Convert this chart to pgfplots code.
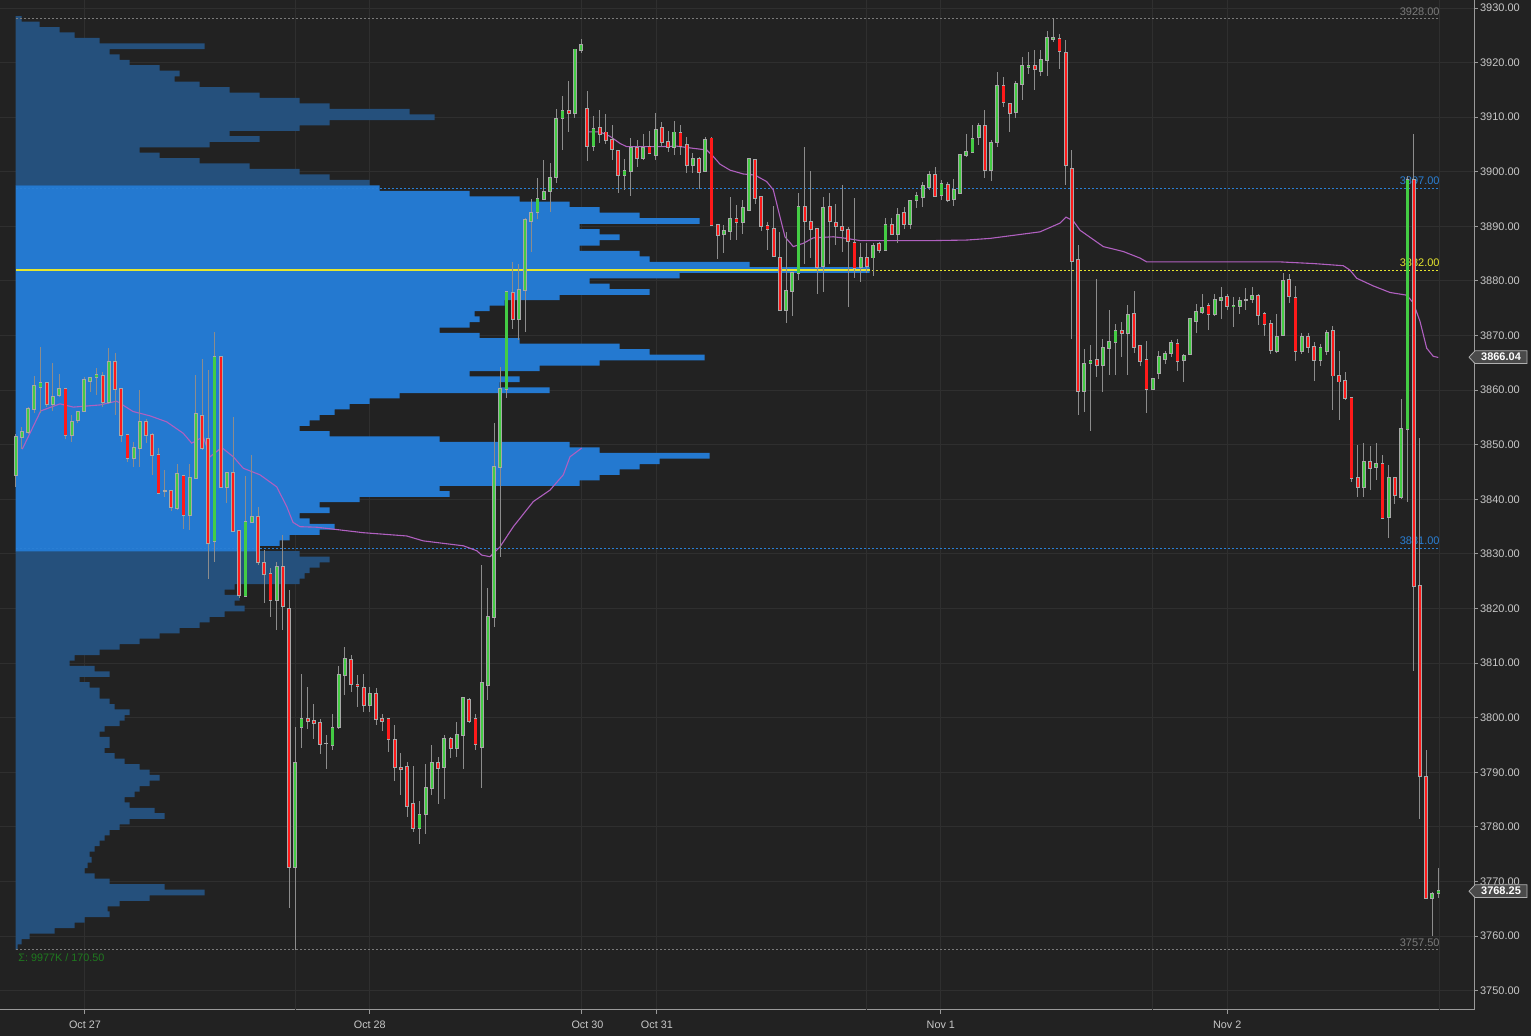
\documentclass[border=0pt]{standalone}
\usepackage{fontspec}
\setmainfont{Liberation Sans}
\usepackage{pgfplots}
\usepackage{pgfplotstable}
\pgfplotsset{compat=1.18}
\definecolor{bgc}{HTML}{222222}
\definecolor{gridc}{HTML}{2F2F2F}
\definecolor{axc}{HTML}{9A9A9A}
\definecolor{txtc}{HTML}{C8C8C8}
\definecolor{vac}{HTML}{2479D0}
\definecolor{outc}{HTML}{25507C}
\definecolor{upc}{HTML}{44CC44}
\definecolor{dnc}{HTML}{FF1A1A}
\definecolor{wickc}{HTML}{8C8C8C}
\definecolor{bordc}{HTML}{A8A8A8}
\definecolor{vwapc}{HTML}{B060C0}
\definecolor{lvlblue}{HTML}{2A7FD4}
\definecolor{lvlyel}{HTML}{E6E62E}
\definecolor{lvlgray}{HTML}{7A7A7A}
\definecolor{sumc}{HTML}{1F7A1F}
\definecolor{boxc}{HTML}{4A4A4A}
\definecolor{boxb}{HTML}{B0B0B0}
\newcommand{\lbl}{\fontsize{5.5}{6.5}\selectfont}
\pgfplotsset{nomark/.style={only marks, mark=*, mark size=0pt, mark options={draw opacity=0, fill opacity=0}, forget plot}}

\pgfplotstableread{
i o h l c
0 3844.4 3852.0 3842.2 3851.4
1 3851.4 3853.3 3849.2 3852.4
2 3852.4 3857.0 3852.0 3856.6
3 3856.6 3862.6 3855.9 3860.8
4 3860.5 3868.0 3855.8 3861.4
5 3861.4 3861.5 3857.0 3857.4
6 3857.4 3865.0 3856.2 3858.8
7 3859.1 3863.0 3858.8 3860.3
8 3860.2 3860.3 3851.0 3851.8
9 3851.8 3855.5 3850.6 3854.2
10 3854.5 3856.2 3854.0 3856.1
11 3856.1 3862.5 3856.0 3861.9
12 3861.7 3862.5 3859.6 3862.3
13 3862.4 3864.0 3859.1 3862.7
14 3862.7 3863.3 3857.0 3857.8
15 3857.8 3867.8 3857.5 3865.1
16 3865.1 3866.8 3855.5 3860.3
17 3860.3 3860.4 3850.6 3851.8
18 3851.8 3852.0 3846.8 3847.5
19 3847.5 3850.6 3846.0 3849.4
20 3849.4 3860.0 3846.0 3854.2
21 3854.2 3854.8 3850.3 3851.8
22 3851.8 3852.2 3844.5 3848.1
23 3848.1 3849.5 3841.0 3841.1
24 3841.5 3845.3 3840.4 3841.5
25 3841.5 3841.6 3837.8 3838.7
26 3838.4 3846.4 3838.0 3844.6
27 3844.3 3844.4 3834.6 3837.1
28 3837.1 3846.4 3834.4 3843.9
29 3844.0 3862.7 3844.0 3855.6
30 3855.3 3865.7 3849.0 3849.4
31 3851.1 3863.7 3825.5 3832.1
32 3832.4 3870.7 3828.6 3866.1
33 3866.1 3866.2 3842.0 3842.3
34 3842.3 3845.0 3839.3 3844.9
35 3844.9 3855.0 3834.0 3834.2
36 3834.2 3834.3 3821.9 3822.4
37 3822.4 3844.3 3822.3 3835.8
38 3835.8 3848.1 3835.6 3836.8
39 3836.8 3838.7 3828.0 3828.5
40 3828.3 3830.7 3821.0 3826.3
41 3826.3 3827.5 3818.5 3821.5
42 3821.5 3828.6 3816.1 3827.6
43 3827.7 3833.5 3816.0 3820.4
44 3820.0 3823.4 3765.1 3772.6
45 3772.6 3798.3 3757.5 3791.7
46 3798.3 3808.0 3794.4 3799.8
47 3799.8 3805.7 3797.9 3799.4
48 3799.4 3802.5 3796.1 3799.0
49 3799.1 3799.7 3793.3 3795.2
50 3795.3 3796.8 3790.7 3795.3
51 3795.0 3800.7 3794.2 3798.1
52 3798.3 3809.4 3798.0 3807.8
53 3807.8 3813.0 3804.1 3810.7
54 3810.6 3811.5 3804.7 3806.1
55 3806.1 3807.8 3802.0 3805.8
56 3805.5 3808.0 3801.1 3802.3
57 3802.3 3805.7 3801.1 3804.4
58 3804.4 3805.4 3798.7 3799.8
59 3799.8 3800.7 3797.6 3799.5
60 3799.8 3799.9 3793.8 3796.1
61 3795.9 3798.7 3788.5 3790.9
62 3790.9 3793.5 3785.9 3790.6
63 3790.9 3791.9 3781.8 3783.9
64 3784.2 3791.2 3779.0 3779.9
65 3779.9 3784.8 3776.9 3782.2
66 3782.4 3791.5 3778.8 3787.1
67 3787.1 3795.0 3785.9 3791.8
68 3791.8 3792.9 3784.2 3790.9
69 3790.9 3796.8 3785.1 3796.2
70 3796.2 3796.5 3792.6 3794.4
71 3794.4 3799.3 3792.8 3796.8
72 3796.8 3803.9 3790.6 3803.6
73 3803.3 3803.6 3799.0 3799.5
74 3799.8 3800.7 3794.1 3795.2
75 3794.6 3828.0 3787.1 3806.4
76 3806.1 3823.7 3803.3 3818.5
77 3818.5 3854.0 3816.6 3846.0
78 3846.0 3864.3 3829.5 3860.2
79 3860.2 3878.2 3858.5 3877.9
80 3877.9 3883.4 3871.2 3873.0
81 3873.0 3883.2 3869.2 3878.4
82 3878.4 3891.5 3870.7 3891.2
83 3891.0 3895.1 3885.4 3892.5
84 3892.7 3898.8 3891.3 3895.1
85 3895.1 3902.2 3894.8 3896.4
86 3896.4 3901.6 3892.7 3898.8
87 3899.1 3911.6 3898.0 3909.7
88 3909.8 3913.9 3904.0 3911.1
89 3911.1 3916.6 3907.3 3910.7
90 3910.7 3922.5 3909.8 3922.4
91 3922.4 3924.3 3921.7 3923.2
92 3911.5 3914.8 3901.9 3904.8
93 3904.8 3910.3 3903.9 3907.8
94 3908.0 3911.4 3905.2 3906.9
95 3907.2 3910.6 3905.1 3905.8
96 3905.8 3908.5 3902.2 3904.2
97 3903.9 3904.0 3896.2 3899.5
98 3899.5 3902.3 3896.7 3900.1
99 3900.1 3906.1 3895.6 3904.3
100 3904.4 3905.8 3900.8 3902.6
101 3902.6 3907.0 3902.2 3904.3
102 3904.5 3907.5 3903.3 3903.4
103 3903.1 3910.8 3902.2 3907.7
104 3908.0 3909.2 3904.5 3905.5
105 3905.4 3907.5 3903.7 3904.6
106 3904.6 3909.4 3903.0 3907.2
107 3907.2 3908.6 3903.1 3904.7
108 3904.9 3906.4 3899.7 3901.2
109 3901.2 3903.4 3899.7 3902.4
110 3902.3 3902.8 3896.9 3900.0
111 3900.1 3906.3 3900.0 3905.8
112 3906.1 3906.4 3890.0 3890.3
113 3890.3 3890.4 3884.1 3888.4
114 3888.6 3890.3 3885.1 3889.2
115 3889.2 3895.4 3887.5 3891.4
116 3891.4 3894.0 3887.5 3890.9
117 3890.9 3894.8 3888.7 3893.4
118 3893.1 3902.4 3893.0 3902.3
119 3902.2 3902.3 3894.2 3895.2
120 3895.3 3895.4 3889.2 3890.1
121 3890.1 3890.9 3885.6 3889.6
122 3889.6 3893.7 3884.5 3884.6
123 3884.3 3889.0 3874.7 3874.7
124 3874.7 3889.0 3872.4 3878.2
125 3878.2 3881.5 3873.6 3881.4
126 3881.4 3896.1 3880.2 3893.5
127 3893.5 3904.6 3883.2 3891.0
128 3890.9 3900.1 3884.2 3889.6
129 3889.5 3889.6 3877.6 3882.6
130 3882.8 3895.3 3877.9 3893.4
131 3893.5 3896.1 3883.2 3890.9
132 3890.6 3894.1 3886.6 3890.1
133 3889.9 3897.5 3885.4 3889.3
134 3889.3 3889.9 3875.3 3887.4
135 3887.0 3895.3 3880.6 3882.4
136 3882.6 3887.0 3879.9 3884.3
137 3884.3 3887.0 3881.4 3882.8
138 3884.3 3887.0 3881.0 3886.4
139 3886.7 3887.2 3885.1 3885.7
140 3885.6 3891.5 3885.5 3890.3
141 3890.3 3891.5 3888.4 3888.6
142 3888.6 3893.4 3887.0 3892.1
143 3892.4 3893.5 3889.6 3890.4
144 3890.4 3894.8 3889.6 3894.6
145 3894.8 3896.4 3893.3 3895.6
146 3895.3 3898.2 3893.6 3897.4
147 3897.3 3900.1 3896.7 3899.4
148 3899.5 3900.8 3895.4 3895.6
149 3895.8 3898.5 3894.8 3897.8
150 3897.6 3898.2 3894.4 3894.8
151 3895.1 3898.6 3893.7 3896.7
152 3896.2 3903.0 3896.0 3903.0
153 3903.0 3907.0 3902.8 3903.7
154 3903.7 3908.6 3903.5 3906.1
155 3906.4 3909.0 3904.9 3908.4
156 3908.4 3911.4 3898.8 3900.4
157 3900.4 3905.8 3898.4 3905.2
158 3905.4 3918.2 3904.6 3915.7
159 3915.7 3917.3 3911.9 3912.7
160 3912.5 3912.6 3907.3 3910.7
161 3910.9 3916.7 3909.8 3916.1
162 3916.1 3921.1 3913.2 3919.4
163 3919.2 3922.0 3917.9 3919.4
164 3919.4 3922.3 3914.9 3918.9
165 3918.5 3922.3 3917.5 3920.4
166 3920.4 3925.8 3917.5 3924.6
167 3924.3 3928.1 3923.8 3924.6
168 3924.3 3925.2 3918.8 3922.2
169 3921.8 3924.1 3897.6 3901.2
170 3900.5 3904.0 3869.3 3883.7
171 3883.8 3886.6 3855.5 3859.9
172 3859.9 3867.5 3856.1 3864.8
173 3865.0 3868.3 3852.6 3865.4
174 3865.5 3880.3 3862.4 3864.6
175 3864.6 3869.3 3859.6 3867.7
176 3867.7 3874.6 3862.8 3868.9
177 3868.9 3872.2 3862.7 3870.8
178 3870.9 3872.5 3866.1 3870.4
179 3870.5 3875.6 3862.8 3873.8
180 3873.9 3878.2 3866.9 3868.0
181 3868.1 3868.2 3864.4 3865.4
182 3865.5 3869.0 3855.9 3860.2
183 3860.2 3862.2 3860.0 3862.0
184 3863.1 3867.2 3862.0 3866.1
185 3865.8 3867.2 3864.8 3866.6
186 3866.8 3869.2 3866.0 3868.7
187 3868.5 3869.3 3863.6 3865.4
188 3865.5 3866.6 3861.6 3866.3
189 3866.6 3873.1 3866.4 3873.0
190 3872.6 3875.8 3870.5 3874.4
191 3874.3 3877.6 3873.9 3875.1
192 3875.4 3875.9 3871.1 3873.9
193 3873.9 3877.7 3873.6 3876.5
194 3876.5 3879.0 3873.0 3876.8
195 3877.1 3877.6 3874.6 3875.4
196 3875.4 3877.0 3871.5 3875.5
197 3875.4 3877.0 3874.0 3876.4
198 3876.6 3878.8 3874.7 3876.6
199 3876.8 3879.0 3876.0 3877.3
200 3877.3 3877.7 3872.0 3873.7
201 3873.9 3874.4 3869.9 3872.2
202 3872.2 3872.9 3866.6 3867.4
203 3867.1 3873.9 3866.9 3869.8
204 3870.1 3881.4 3870.0 3880.1
205 3880.1 3881.3 3876.0 3877.3
206 3876.8 3879.0 3865.4 3867.1
207 3867.1 3870.4 3866.6 3869.8
208 3869.8 3870.4 3866.9 3867.9
209 3867.9 3868.9 3861.6 3865.5
210 3865.5 3868.5 3864.4 3867.7
211 3867.2 3871.1 3866.4 3870.5
212 3870.8 3871.8 3856.3 3862.7
213 3862.7 3867.2 3854.5 3861.6
214 3861.6 3863.3 3858.2 3858.5
215 3858.5 3858.6 3843.2 3843.9
216 3843.9 3849.9 3840.4 3842.2
217 3842.2 3850.4 3840.5 3846.8
218 3846.8 3849.8 3841.7 3845.7
219 3845.9 3850.4 3843.5 3846.4
220 3846.4 3848.1 3836.5 3836.5
221 3836.8 3846.3 3833.0 3844.0
222 3844.0 3844.2 3839.2 3840.8
223 3840.5 3858.4 3840.0 3852.9
224 3852.9 3899.2 3839.6 3898.5
225 3898.5 3907.0 3808.6 3824.1
226 3824.1 3851.2 3781.4 3789.3
227 3789.1 3794.2 3766.8 3767.0
228 3767.0 3768.1 3760.0 3767.8
229 3768.0 3772.5 3767.0 3768.25
}\candles

% volume profile: price row and right edge of the row (px from the image's left edge)
\pgfplotstableread{
p px
3758 18
3759 22
3760 30
3761 55
3762 75
3763 85
3764 110
3765 108
3766 120
3767 150
3768 205
3769 165
3770 110
3771 95
3772 85
3773 88
3774 92
3775 90
3776 95
3777 100
3778 105
3779 110
3780 120
3781 130
3782 165
3783 155
3784 130
3785 125
3786 135
3787 140
3788 150
3789 160
3790 150
3791 140
3792 125
3793 115
3794 105
3795 110
3796 110
3797 100
3798 105
3799 120
3800 125
3801 130
3802 115
3803 110
3804 100
3805 100
3806 90
3807 80
3808 110
3809 95
3810 70
3811 75
3812 100
3813 120
3814 140
3815 160
3816 180
3817 200
3818 210
3819 225
3820 245
3821 235
3822 240
3823 225
3824 235
3825 300
3826 305
3827 310
3828 320
3829 330
3830 300
3898 370
3899 330
3900 300
3901 250
3902 200
3903 160
3904 140
3905 210
3906 260
3907 230
3908 300
3909 330
3910 435
3911 410
3912 330
3913 300
3914 260
3915 230
3916 200
3917 175
3918 180
3919 160
3920 130
3921 120
3922 110
3923 205
3924 100
3925 75
3926 60
3927 40
3928 22
}\profout

\pgfplotstableread{
p px
3831 260
3832 280
3833 290
3834 320
3835 335
3836 310
3837 300
3838 330
3839 320
3840 360
3841 450
3842 440
3843 580
3844 600
3845 620
3846 640
3847 660
3848 710
3849 600
3850 570
3851 440
3852 330
3853 300
3854 310
3855 320
3856 335
3857 350
3858 370
3859 400
3860 550
3861 500
3862 520
3863 470
3864 540
3865 600
3866 705
3867 650
3868 620
3869 520
3870 480
3871 440
3872 470
3873 480
3874 475
3875 490
3876 505
3877 560
3878 650
3879 610
3880 590
3881 680
3882 870
3883 750
3884 650
3885 640
3886 580
3887 600
3888 620
3889 600
3890 580
3891 700
3892 640
3893 600
3894 570
3895 520
3896 470
3897 380
}\profva

\pgfplotstableread{
px p
22.3 3849.2
40.7 3856.2
60 3857.5
73.3 3856.9
100 3857.3
116.7 3858.0
133 3856.1
150 3855.3
166.7 3854.2
183.3 3852.1
191.7 3850.3
203.3 3851.5
210 3847.8
221.7 3849.5
233.3 3847.8
243.3 3845.7
260 3844.5
276.7 3842.3
286.7 3838.7
293 3835.8
300 3835.0
317 3834.9
363.3 3833.9
406.7 3833.3
423.3 3832.4
463.3 3831.5
476.7 3830.6
481.7 3829.8
490 3829.5
500 3831.3
513.3 3835.0
533.3 3839.6
550 3841.7
563.3 3844.5
570 3847.8
581.7 3849.4
}\vwapA

\pgfplotstableread{
px p
587.3 3907.3
600 3907.3
610 3906.5
620 3905.2
626.7 3904.6
660 3904.6
676.7 3904.7
693.3 3904.3
706.7 3904.0
713.3 3902.8
720 3901.4
730 3900.3
743.3 3899.6
755 3899.4
766.7 3898.2
773.3 3896.7
778.3 3893.0
785 3888.1
793.3 3886.3
803.3 3886.9
813.3 3887.9
833.3 3888.1
846.7 3887.8
860 3887.4
933.3 3887.4
966.7 3887.5
990 3887.8
1006.7 3888.2
1040 3889.0
1060 3890.6
1066 3891.7
1073.3 3891.0
1080 3889.3
1103.3 3886.3
1123.3 3885.4
1140 3884.2
1146.7 3883.5
1213.3 3883.5
1280 3883.5
1313 3883.2
1343.3 3882.8
1350 3882.0
1356.7 3880.5
1373.3 3879.1
1390 3877.9
1406.7 3877.4
1413.3 3876.0
1420 3872.6
1426.7 3867.7
1433.3 3866.2
1438.3 3866.0
}\vwapB

\begin{document}
\begin{tikzpicture}
\fill[bgc] (0pt,-13pt) rectangle (765.5pt,505pt);
\begin{axis}[
  scale only axis, width=737pt, height=505pt,
  xmin=-2.527, xmax=234.72, ymin=3746.48, ymax=3931.47,
  axis x line*=bottom, axis y line*=right,
  axis line style={draw=axc, line width=0.5pt},
  clip=false,
  /pgf/number format/assume math mode=true,
  xtick={11.15,57.0,91.1,103.2,148.9,195.0},
  xticklabels={Oct 27,Oct 28,\hspace*{5.8pt}Oct 30,Oct 31,Nov 1,Nov 2},
  extra x ticks={45.1,137.0,183.0,229.1},
  extra x tick labels={},
  extra x tick style={xmajorgrids=true, major tick length=0pt},
  ytick={3750,3760,...,3930},
  yticklabel={\pgfmathprintnumber[fixed,fixed zerofill,precision=2,1000 sep={}]{\tick}},
  xmajorgrids, ymajorgrids,
  major grid style={draw=gridc, line width=0.5pt},
  tick align=outside, major tick length=2pt,
  tick style={draw=axc, line width=0.5pt},
  x tick label style={font=\fontsize{5.4}{6}\selectfont, text=txtc},
  y tick label style={font=\lbl, text=txtc, xshift=-2.5pt},
]
% volume profile
\addplot[xbar, bar width=1.04, bar shift=0pt, fill=outc, draw=none, forget plot]
  table[x expr=(\thisrow{px}-16)/6.213, y=p] {\profout};
\addplot[xbar, bar width=1.04, bar shift=0pt, fill=vac, draw=none, forget plot]
  table[x expr=(\thisrow{px}-16)/6.213, y=p] {\profva};
% level lines
\addplot[lvlgray, dash pattern=on 1pt off 1pt, line width=0.45pt, forget plot] coordinates {(0.05,3928) (229.24,3928)};
\addplot[lvlblue, dash pattern=on 1pt off 1pt, line width=0.45pt, forget plot] coordinates {(0.05,3897) (229.24,3897)};
\addplot[lvlyel, dash pattern=on 1pt off 1pt, line width=0.45pt, forget plot] coordinates {(0.05,3882) (229.24,3882)};
\addplot[lvlyel, line width=1pt, forget plot] coordinates {(0.05,3882) (137.5,3882)};
\addplot[lvlblue, dash pattern=on 1pt off 1pt, line width=0.45pt, forget plot] coordinates {(0.05,3831) (229.24,3831)};
\addplot[lvlgray, dash pattern=on 1pt off 1pt, line width=0.45pt, forget plot] coordinates {(0.05,3757.5) (229.24,3757.5)};
\node[anchor=south east, inner sep=0pt, yshift=1.6pt, font=\lbl, text=lvlgray] at (axis cs:229.24,3928) {3928.00};
\node[anchor=south east, inner sep=0pt, yshift=1.6pt, font=\lbl, text=lvlblue] at (axis cs:229.24,3897) {3897.00};
\node[anchor=south east, inner sep=0pt, yshift=1.6pt, font=\lbl, text=lvlyel] at (axis cs:229.24,3882) {3882.00};
\node[anchor=south east, inner sep=0pt, yshift=1.6pt, font=\lbl, text=lvlblue] at (axis cs:229.24,3831) {3831.00};
\node[anchor=south east, inner sep=0pt, yshift=1.6pt, font=\lbl, text=lvlgray] at (axis cs:229.24,3757.5) {3757.50};
% vwap
\addplot[vwapc, line width=0.55pt, forget plot] table[x expr=(\thisrow{px}-15.7)/6.213, y=p] {\vwapA};
\addplot[vwapc, line width=0.55pt, forget plot] table[x expr=(\thisrow{px}-15.7)/6.213, y=p] {\vwapB};
% candles: wicks
\addplot[nomark,
  error bars/.cd, y dir=both, y explicit, error mark=none,
  error bar style={draw=wickc, line width=0.5pt}]
  table[x=i, y expr={(\thisrow{h}+\thisrow{l})/2}, y error expr={(\thisrow{h}-\thisrow{l})/2}] {\candles};
% bodies: outline
\addplot[nomark,
  error bars/.cd, y dir=both, y explicit, error mark=none,
  error bar style={draw=bordc, line width=1.9pt}]
  table[x=i, y expr={(\thisrow{o}+\thisrow{c})/2}, y error expr={abs(\thisrow{c}-\thisrow{o})/2+0.18}] {\candles};
% bodies: fill up
\addplot[nomark,
  restrict expr to domain={\thisrow{c}-\thisrow{o}}{0:1000},
  error bars/.cd, y dir=both, y explicit, error mark=none,
  error bar style={draw=upc, line width=1.1pt}]
  table[x=i, y expr={(\thisrow{o}+\thisrow{c})/2}, y error expr={abs(\thisrow{c}-\thisrow{o})/2}] {\candles};
% bodies: fill down
\addplot[nomark,
  restrict expr to domain={\thisrow{c}-\thisrow{o}}{-1000:-0.001},
  error bars/.cd, y dir=both, y explicit, error mark=none,
  error bar style={draw=dnc, line width=1.1pt}]
  table[x=i, y expr={(\thisrow{o}+\thisrow{c})/2}, y error expr={abs(\thisrow{c}-\thisrow{o})/2}] {\candles};
\end{axis}
\node[anchor=west, inner sep=0pt, font=\fontsize{5.4}{6}\selectfont, text=sumc] at (9pt,26pt) {Σ: 9977K / 170.50};
% price boxes
\filldraw[fill=boxc, draw=boxb, line width=0.4pt] (734.5pt,326.4pt) -- (737.5pt,329.6pt) -- (763.5pt,329.6pt) -- (763.5pt,323.2pt) -- (737.5pt,323.2pt) -- cycle;
\node[text=white, font=\bfseries\lbl, inner sep=0pt] at (750.5pt,326.4pt) {3866.04};
\filldraw[fill=boxc, draw=boxb, line width=0.4pt] (734.5pt,59.4pt) -- (737.5pt,62.6pt) -- (763.5pt,62.6pt) -- (763.5pt,56.2pt) -- (737.5pt,56.2pt) -- cycle;
\node[text=white, font=\bfseries\lbl, inner sep=0pt] at (750.5pt,59.4pt) {3768.25};
\pgfresetboundingbox
\useasboundingbox (0pt,-13pt) rectangle (765.5pt,505pt);
\end{tikzpicture}
\end{document}
